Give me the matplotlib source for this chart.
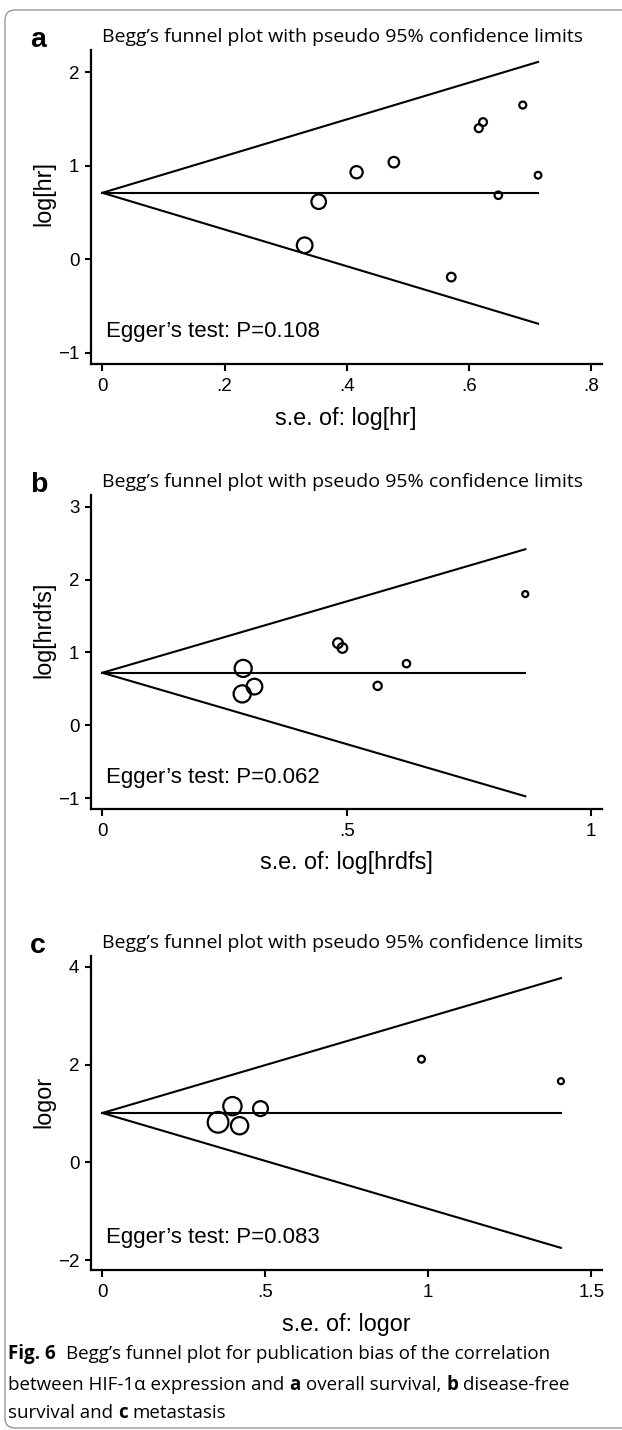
import numpy as np
import matplotlib.pyplot as plt
from matplotlib.patches import FancyBboxPatch
from matplotlib.transforms import IdentityTransform

W, H = 622, 1430

# panel a: overall survival
a_se = [0.688, 0.623, 0.616, 0.477, 0.416, 0.713, 0.648, 0.354, 0.331, 0.571]
a_est = [1.647, 1.465, 1.40, 1.037, 0.93, 0.898, 0.684, 0.615, 0.15, -0.19]
a_pool = 0.71
# panel b: disease-free survival
b_se = [0.865, 0.482, 0.491, 0.622, 0.563, 0.288, 0.311, 0.286]
b_est = [1.80, 1.127, 1.06, 0.845, 0.54, 0.78, 0.53, 0.43]
b_pool = 0.72
# panel c: metastasis
c_se = [0.979, 1.407, 0.399, 0.485, 0.355, 0.421]
c_est = [2.11, 1.66, 1.15, 1.10, 0.82, 0.75]
c_pool = 1.01

a_xticks = [0, 0.2, 0.4, 0.6, 0.8]
a_xlabels = ["0", ".2", ".4", ".6", ".8"]
a_yticks = [-1, 0, 1, 2]
b_xticks = [0, 0.5, 1]
b_xlabels = ["0", ".5", "1"]
b_yticks = [-1, 0, 1, 2, 3]
c_xticks = [0, 0.5, 1, 1.5]
c_xlabels = ["0", ".5", "1", "1.5"]
c_yticks = [-2, 0, 2, 4]

eggers = ["0.108", "0.062", "0.083"]

SANS = ["Liberation Sans", "DejaVu Sans"]
HUM = ["Open Sans", "DejaVu Sans"]

fig = plt.figure(figsize=(W / 100, H / 100), dpi=100)

def px_ax(left, top, right, bottom):
    return fig.add_axes([left / W, 1 - bottom / H, (right - left) / W, (bottom - top) / H])

panels = [
    dict(se=a_se, est=a_est, pool=a_pool, xt=a_xticks, xl=a_xlabels, yt=a_yticks,
         xlim=(-0.0195, 0.8177), ylim=(-1.118, 2.235), top=50, bottom=364,
         letter="a", ylab="log[hr]", xlab="s.e. of: log[hr]", k=5.5, ylab_y=193),
    dict(se=b_se, est=b_est, pool=b_pool, xt=b_xticks, xl=b_xlabels, yt=b_yticks,
         xlim=(-0.0243, 1.0219), ylim=(-1.15, 3.16), top=495, bottom=809,
         letter="b", ylab="log[hrdfs]", xlab="s.e. of: log[hrdfs]", k=5.2, ylab_y=630),
    dict(se=c_se, est=c_est, pool=c_pool, xt=c_xticks, xl=c_xlabels, yt=c_yticks,
         xlim=(-0.0365, 1.533), ylim=(-2.2, 4.22), top=956, bottom=1270,
         letter="c", ylab="logor", xlab="s.e. of: logor", k=7.7, ylab_y=1102),
]

for i, p in enumerate(panels):
    ax = px_ax(90.5, p["top"], 602, p["bottom"])
    se = np.array(p["se"])
    est = np.array(p["est"])
    smax = se.max()
    xs = np.array([0, smax])
    ax.plot(xs, [p["pool"], p["pool"]], color="black", lw=1.5)
    ax.plot(xs, p["pool"] + 1.96 * xs, color="black", lw=1.5)
    ax.plot(xs, p["pool"] - 1.96 * xs, color="black", lw=1.5)
    d = np.maximum(p["k"] / se, 7) - 1
    ax.scatter(se, est, s=(d * 0.72) ** 2, facecolors="none", edgecolors="black",
               linewidths=1.6, zorder=3)
    ax.set_xlim(p["xlim"])
    ax.set_ylim(p["ylim"])
    ax.set_xticks(p["xt"])
    ax.set_xticklabels(p["xl"])
    ax.set_yticks(p["yt"])
    ax.set_yticklabels([str(v).replace("-", "\u2212") for v in p["yt"]])
    for s in ["top", "right"]:
        ax.spines[s].set_visible(False)
    for s in ["left", "bottom"]:
        ax.spines[s].set_linewidth(1.6)
    ax.tick_params(axis="x", length=5, width=1.5, pad=5, labelsize=13.5)
    ax.tick_params(axis="y", length=4, width=1.5, pad=4, labelsize=13.5)
    for lab in ax.get_xticklabels() + ax.get_yticklabels():
        lab.set_family(SANS)
    ax.patch.set_alpha(0)

    t, b = p["top"], p["bottom"]
    fig.text(106 / W, 1 - (b - 32) / H, "Egger\u2019s test: P=" + eggers[i],
             fontsize=16, family=SANS, va="center")
    fig.text(346 / W, 1 - (b + 54) / H, p["xlab"], fontsize=16.8, family=SANS,
             ha="center", va="center")
    fig.text(44 / W, 1 - p["ylab_y"] / H, p["ylab"], fontsize=16.8, family=SANS,
             ha="center", va="center", rotation=90)
    fig.text(30 / W, 1 - (t - 3) / H, p["letter"], fontsize=20.5, family=SANS,
             fontweight="bold", ha="left", va="baseline")
    fig.text(342.5 / W, 1 - (t - 8) / H, "Begg\u2019s funnel plot with pseudo 95% confidence limits",
             fontsize=14.0, family=HUM, ha="center", va="baseline")

# caption with bold pieces
renderer = fig.canvas.get_renderer()
cap_size = 13.5
space = cap_size * 0.26 * 100 / 72
lines = [
    (1354, [("Fig. 6", "bold"), ("", "gap"), ("Begg\u2019s funnel plot for publication bias of the correlation", "normal")]),
    (1385, [("between HIF-1\u03b1 expression and", "normal"), ("a", "bold"), ("overall survival,", "normal"),
            ("b", "bold"), ("disease-free", "normal")]),
    (1413, [("survival and", "normal"), ("c", "bold"), ("metastasis", "normal")]),
]
for y, parts in lines:
    x = 8.5
    for j, (s, w) in enumerate(parts):
        if w == "gap":
            x += space
            continue
        if j > 0:
            x += space
        tx = fig.text(x / W, 1 - y / H, s, fontsize=cap_size, family=HUM,
                      fontweight=w, va="center", ha="left")
        x += tx.get_window_extent(renderer).width

frame = FancyBboxPatch((5, 2), 800, 1418, boxstyle="round,pad=0,rounding_size=10",
                       transform=IdentityTransform(), facecolor="none",
                       edgecolor="#8c8c8c", lw=0.9)
fig.add_artist(frame)

fig.savefig("out.png", dpi=100)
